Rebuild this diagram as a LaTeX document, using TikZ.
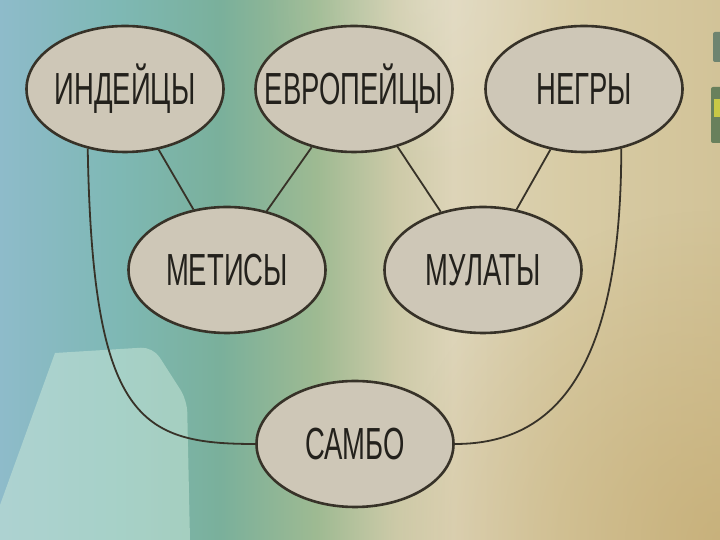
\documentclass[tikz,border=0pt]{standalone}
\usepackage{fontspec}
\newfontfamily\ovalfont[FakeStretch=0.61]{Liberation Sans}
\usetikzlibrary{shapes.geometric, fadings}

\definecolor{ovalfill}{RGB}{206,199,183}
\definecolor{ovaldraw}{RGB}{55,50,40}
\definecolor{inkcol}{RGB}{35,33,28}
\definecolor{bgA}{RGB}{142,187,202}
\definecolor{bgB}{RGB}{126,184,180}
\definecolor{bgC}{RGB}{122,176,155}
\definecolor{bgD}{RGB}{158,186,146}
\definecolor{bgE}{RGB}{205,202,168}
\definecolor{bgF}{RGB}{221,212,184}
\definecolor{bgG}{RGB}{216,204,166}
\definecolor{bgH}{RGB}{210,195,152}
\definecolor{tanshade}{RGB}{196,170,112}
\definecolor{mintlight}{RGB}{200,230,216}
\definecolor{iconA}{RGB}{110,132,112}
\definecolor{iconB}{RGB}{104,128,92}
\definecolor{iconC}{RGB}{200,200,70}

% backdrop: middle 50bp is stretched over the picture
\pgfdeclarehorizontalshading{backdrop}{100bp}{color(0bp)=(bgA); color(25bp)=(bgA);
  color(33.3bp)=(bgB); color(40.3bp)=(bgC); color(47bp)=(bgD); color(52.5bp)=(bgE);
  color(56.5bp)=(bgF); color(63.9bp)=(bgG); color(75bp)=(bgH); color(100bp)=(bgH)}
\tikzfading[name=glow out, inner color=transparent!0, outer color=transparent!100]

\begin{document}
\begin{tikzpicture}[x=1pt, y=1pt, font=\ovalfont\fontsize{45}{45}\selectfont,
    oval/.style={ellipse, draw=ovaldraw, line width=2.6pt, fill=ovalfill, text=inkcol,
      minimum width=197pt, minimum height=126pt, inner ysep=0pt, inner xsep=-45pt,
      text height=32pt, text depth=0pt},
    link/.style={draw=ovaldraw, line width=1.8pt}]
    % Backdrop
    \useasboundingbox (0,0) rectangle (720,540);
    \shade[shading=backdrop] (0,0) rectangle (720,540);
    \fill[tanshade, path fading=glow out, fill opacity=0.7] (720,0) circle (330);
    \fill[white, path fading=glow out, fill opacity=0.18] (430,540) circle (170);

    % Light panel (bottom left)
    \fill[mintlight, opacity=0.55] (0,35) -- (55,187) [rounded corners=12pt] -- (153,193)
        -- (187,140) [sharp corners] -- (190,0) -- (0,0) -- cycle;

    % Icon bits at the right edge
    \fill[iconA, rounded corners=2pt] (713,478) rectangle (724,508);
    \fill[iconB, rounded corners=2pt] (711,397) rectangle (724,453);
    \fill[iconC] (714,423) rectangle (724,441);

    % Groups
    \node[oval] (ind) at (125,451) {ИНДЕЙЦЫ};
    \node[oval] (evr) at (354,451) {ЕВРОПЕЙЦЫ};
    \node[oval] (neg) at (584,451) {НЕГРЫ};
    \node[oval] (met) at (227,270) {МЕТИСЫ};
    \node[oval] (mul) at (483,270) {МУЛАТЫ};
    \node[oval] (sam) at (355,96) {САМБО};

    % Mixing lines
    \draw[link] (ind.-61) -- (met.119);
    \draw[link] (evr.-126) -- (met.56);
    \draw[link] (evr.-53) -- (mul.126);
    \draw[link] (neg.-119) -- (mul.61);
    \draw[link] (ind.-122) to[out=-89, in=180, out distance=272pt, in distance=115pt] (sam.west);
    \draw[link] (neg.-58) to[out=-90, in=0, out distance=240pt, in distance=88pt] (sam.east);
\end{tikzpicture}
\end{document}
